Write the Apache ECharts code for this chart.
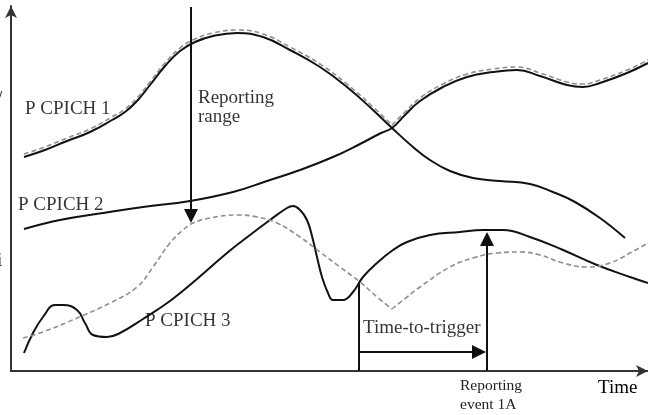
<!DOCTYPE html>
<html><head><meta charset="utf-8">
<script src="https://cdn.jsdelivr.net/npm/echarts@6/dist/echarts.min.js"></script>
<style>html,body{margin:0;padding:0;background:#fff}#c{width:648px;height:415px}</style>
</head><body><div id="c"></div>
<script>
// Readings: [time, level]
const cpich1 = [[13,214],[34,221],[56,230],[79,239],[101,251],[114,259],[126,270],[139,286],[154,305],[169,320],[184,329],[202,335],[226,338],[252,334],[279,321],[309,304],[336,284],[362,261],[381,243],[402,224],[419,211],[439,200],[462,193],[489,190],[519,187],[542,179],[564,169],[589,153],[614,133]];
const cpich2 = [[13,142],[49,151],[92,158],[132,164],[179,170],[222,179],[256,190],[289,201],[322,214],[349,227],[370,238],[381,243],[394,256],[409,270],[432,284],[456,294],[482,299],[506,301],[529,295],[556,286],[572,284],[589,288],[616,298],[637,308]];
const cpich3 = [[13,18],[22,38],[32,54],[44,66],[52,66],[66,61],[74,48],[82,36],[96,34],[109,38],[132,52],[159,70],[186,92],[216,118],[239,136],[259,151],[276,163],[282,165],[289,161],[296,151],[302,131],[306,114],[311,94],[317,78],[322,71],[332,71],[342,79],[352,94],[366,108],[382,121],[396,129],[419,136],[449,139],[472,141],[492,141],[519,134],[552,121],[586,106],[619,94],[637,88]];
const bestCellA = [[13,217],[34,224],[56,233],[79,242],[101,254],[114,262],[126,273],[139,289],[154,308],[169,323],[184,332],[202,338],[226,341],[252,337],[279,324],[309,307],[336,287],[362,264],[381,246]];
const bestCellB = [[381,246],[394,259],[409,273],[432,287],[456,297],[482,302],[506,304],[529,298],[556,289],[572,287],[589,291],[616,301],[637,311]];
const rangeA = [[12,33],[32,39],[66,53],[99,68],[126,84],[142,104],[159,128],[172,141],[182,148],[199,153],[226,156],[246,154],[266,148],[289,134],[309,119],[329,104],[349,89],[366,74],[381,62]];
const rangeB = [[381,62],[396,74],[409,84],[439,104],[462,113],[486,118],[509,119],[529,116],[552,108],[576,104],[599,108],[619,118],[637,128]];
// annotation arrows (time, level)
const reportingRangeArrow = [[180,364],[180,155]];
const tttStartLine = [[348,0],[348,88]];
const tttArrow = [[348,19],[468,19]];
const event1AArrow = [[476,0],[476,132]];
// labels
const labelNames = ['P CPICH 1','Reporting\nrange','P CPICH 2','P CPICH 3','Time-to-trigger'];
const labelPos = [[14,262],[187,263],[7,166],[134,50],[352,43]];

const chart = echarts.init(document.getElementById('c'), null, {renderer:'canvas'});
const FONT = 'Liberation Serif';
const solid = {color:'#111', width:2};
const dashed = {color:'#8f8f8f', width:1.6, type:[5,3]};
function lineS(data, style){
  return {type:'line', data:data, smooth:0.45, symbol:'none', lineStyle:style, silent:true, animation:false};
}
function arrowS(coords, withHead){
  return {type:'lines', coordinateSystem:'cartesian2d', silent:true, animation:false,
    symbol: withHead ? ['none','triangle'] : ['none','none'], symbolSize:14,
    lineStyle:{color:'#111', width:2, opacity:1, curveness:0},
    data:[{coords:coords}]};
}
chart.setOption({
  animation:false,
  backgroundColor:'#fff',
  grid:{left:11, right:0, top:6, bottom:44},
  xAxis:{type:'value', min:0, max:637, axisLabel:{show:false}, axisTick:{show:false}, splitLine:{show:false},
    axisLine:{show:true, symbol:['none','arrow'], symbolSize:[9,12], lineStyle:{color:'#333', width:2}}},
  yAxis:{type:'value', min:0, max:365, axisLabel:{show:false}, axisTick:{show:false}, splitLine:{show:false},
    axisLine:{show:true, symbol:['none','arrow'], symbolSize:[9,12], lineStyle:{color:'#333', width:2}}},
  series:[
    lineS(cpich1, solid),
    lineS(cpich2, solid),
    lineS(cpich3, solid),
    lineS(bestCellA, dashed),
    lineS(bestCellB, dashed),
    lineS(rangeA, dashed),
    lineS(rangeB, dashed),
    arrowS(reportingRangeArrow, true),
    arrowS(tttStartLine, false),
    arrowS(tttArrow, true),
    arrowS(event1AArrow, true),
    {type:'scatter', symbolSize:0, silent:true, animation:false,
     data: labelNames.map((n,i)=>({name:n, value:labelPos[i]})),
     label:{show:true, position:'right', distance:0, formatter:'{b}', fontFamily:FONT, fontSize:19, lineHeight:19, color:'#000'}}
  ],
  graphic:[
    {type:'text', left:460, top:376, style:{text:'Reporting\nevent 1A', font:'15.5px "Liberation Serif"', lineHeight:19, fill:'#222'}},
    {type:'text', left:598, top:379, style:{text:'Time', font:'19px "Liberation Serif"', fill:'#000'}},
    {type:'text', left:-3, top:90, style:{text:'/', font:'19px "Liberation Serif"', fill:'#111'}},
    {type:'text', left:-3, top:252, style:{text:'i', font:'19px "Liberation Serif"', fill:'#111'}}
  ]
});
</script>
</body></html>
